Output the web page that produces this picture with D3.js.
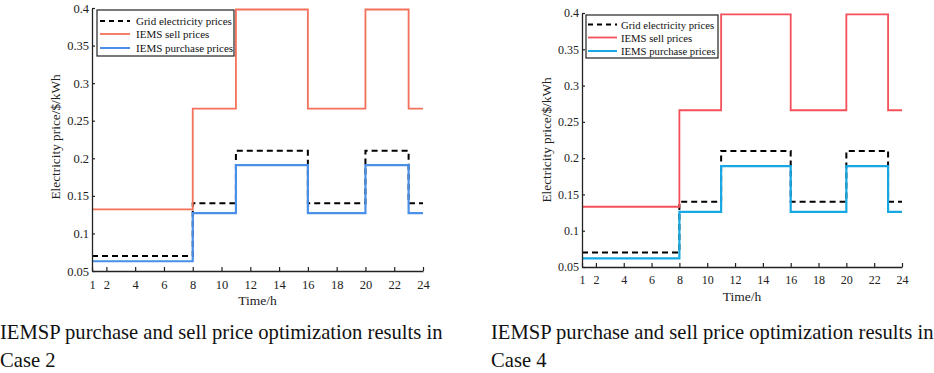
<!DOCTYPE html>
<html><head><meta charset="utf-8">
<script src="https://cdn.jsdelivr.net/npm/d3@7"></script>
<style>body{margin:0;background:#fff;} svg{display:block;}</style>
</head><body>
<svg id="c" width="934" height="373"></svg>
<script>
// ---- data ----
const hours = d3.range(1, 25);
const gridPrices = [0.07,0.07,0.07,0.07,0.07,0.07,0.07,0.14,0.14,0.14,0.21,0.21,0.21,0.21,0.21,0.14,0.14,0.14,0.14,0.21,0.21,0.21,0.14,0.14];
const sellCase2 = [0.132,0.132,0.132,0.132,0.132,0.132,0.132,0.266,0.266,0.266,0.398,0.398,0.398,0.398,0.398,0.266,0.266,0.266,0.266,0.398,0.398,0.398,0.266,0.266];
const purchaseCase2 = [0.063,0.063,0.063,0.063,0.063,0.063,0.063,0.127,0.127,0.127,0.191,0.191,0.191,0.191,0.191,0.127,0.127,0.127,0.127,0.191,0.191,0.191,0.127,0.127];
const sellCase4 = [0.133,0.133,0.133,0.133,0.133,0.133,0.133,0.266,0.266,0.266,0.398,0.398,0.398,0.398,0.398,0.266,0.266,0.266,0.266,0.398,0.398,0.398,0.266,0.266];
const purchaseCase4 = [0.062,0.062,0.062,0.062,0.062,0.062,0.062,0.126,0.126,0.126,0.189,0.189,0.189,0.189,0.189,0.126,0.126,0.126,0.126,0.189,0.189,0.189,0.126,0.126];
const xTicks = [1,2,4,6,8,10,12,14,16,18,20,22,24];
const yTicks = [0.05,0.1,0.15,0.2,0.25,0.3,0.35,0.4];
const legendLabels = ["Grid electricity prices","IEMS sell prices","IEMS purchase prices"];
const xLabel = "Time/h";
const yLabel = "Electricity price/$/kWh";
const captions = [["IEMSP purchase and sell price optimization results in","Case 2"],["IEMSP purchase and sell price optimization results in","Case 4"]];

const svg = d3.select("#c");
const FONT = "'Liberation Serif','Times New Roman',serif";

function drawChart(o){
  const g = svg.append("g");
  const x = d3.scaleLinear().domain([1,24]).range([o.x0,o.x1]);
  const y = d3.scaleLinear().domain([0.05,0.4]).range([o.y0,o.y1]);
  const line = d3.line().x((d,i)=>x(hours[i])).y(d=>y(d)).curve(d3.curveStepAfter);

  g.append("path").datum(gridPrices).attr("d",line).attr("fill","none")
    .attr("stroke","#000").attr("stroke-width",2).attr("stroke-dasharray","6,4");
  g.append("path").datum(o.sell).attr("d",line).attr("fill","none")
    .attr("stroke",o.sellColor).attr("stroke-width",1.8);
  g.append("path").datum(o.purchase).attr("d",line).attr("fill","none")
    .attr("stroke",o.purchColor).attr("stroke-width",2.2);

  const ax = g.append("g").attr("transform",`translate(0,${o.y0})`)
    .call(d3.axisBottom(x).tickValues(xTicks).tickSize(-4).tickSizeOuter(0).tickPadding(o.xPad));
  const ay = g.append("g").attr("transform",`translate(${o.x0},0)`)
    .call(d3.axisLeft(y).tickValues(yTicks).tickSize(-3).tickSizeOuter(0).tickPadding(3).tickFormat(d=>String(+d.toFixed(2))));
  [ax,ay].forEach(a=>{
    a.select(".domain").attr("stroke","#222").attr("stroke-width",1.3);
    a.selectAll(".tick line").attr("stroke","#222").attr("stroke-width",1.2);
    a.selectAll("text").attr("font-family",FONT).attr("font-size",o.tickFont).attr("fill","#222");
  });

  g.append("text").attr("x",(o.x0+o.x1)/2).attr("y",o.xLabelY).attr("text-anchor","middle")
    .attr("font-family",FONT).attr("font-size",13.5).attr("fill","#222").text(xLabel);
  g.append("text").attr("transform",`translate(${o.yLabelX},${o.yLabelY}) rotate(-90)`)
    .attr("text-anchor","middle").attr("dominant-baseline","central")
    .attr("font-family",FONT).attr("font-size",13.3).attr("fill","#222").text(yLabel);

  // legend
  const L = o.legend;
  g.append("rect").attr("x",L.x).attr("y",L.y).attr("width",L.w).attr("height",L.h)
    .attr("fill","#fff").attr("stroke","#222").attr("stroke-width",1.2);
  const styles = [{c:"#000",dash:"5,4",w:2},{c:o.sellColor,dash:null,w:1.8},{c:o.purchColor,dash:null,w:2}];
  legendLabels.forEach((t,i)=>{
    const yy = L.rows[i];
    g.append("line").attr("x1",L.lx0).attr("x2",L.lx1).attr("y1",yy).attr("y2",yy)
      .attr("stroke",styles[i].c).attr("stroke-width",styles[i].w).attr("stroke-dasharray",styles[i].dash);
    g.append("text").attr("x",L.tx).attr("y",yy).attr("dominant-baseline","central")
      .attr("font-family",FONT).attr("font-size",L.font).attr("fill","#111").text(t);
  });

  // caption
  o.caption.forEach((t,i)=>{
    svg.append("text").attr("x",o.capX).attr("y",[339,367][i])
      .attr("font-family",FONT).attr("font-size",20.6).attr("fill","#111").text(t);
  });
}

drawChart({x0:92,x1:423,y0:271,y1:8,sell:sellCase2,purchase:purchaseCase2,
  sellColor:"#f4705a",purchColor:"#4a8fe8",tickFont:12.5,xPad:9,xLabelY:305,
  yLabelX:55,yLabelY:137,
  legend:{x:97,y:10,w:137,h:46,rows:[21,34,48],lx0:100,lx1:130,tx:136,font:11},
  caption:captions[0],capX:0});

drawChart({x0:582,x1:902,y0:267,y1:13,sell:sellCase4,purchase:purchaseCase4,
  sellColor:"#f5505a",purchColor:"#17a8e4",tickFont:12,xPad:8,xLabelY:301,
  yLabelX:546,yLabelY:140,
  legend:{x:586,y:15,w:132,h:43,rows:[24.5,37.5,51],lx0:588,lx1:617,tx:621,font:10.7},
  caption:captions[1],capX:491});
</script>
</body></html>
